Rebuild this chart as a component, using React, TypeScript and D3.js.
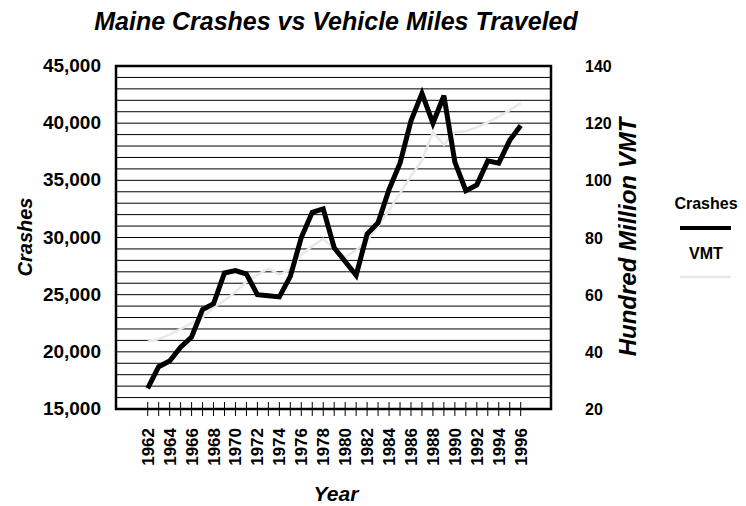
import React from "react";
import * as d3 from "d3";

const years = [1962,1963,1964,1965,1966,1967,1968,1969,1970,1971,1972,1973,1974,1975,1976,1977,1978,1979,1980,1981,1982,1983,1984,1985,1986,1987,1988,1989,1990,1991,1992,1993,1994,1995,1996];
const crashes = [16800,18700,19200,20400,21300,23700,24200,26900,27100,26800,25000,24900,24800,26600,30000,32200,32500,29100,27900,26700,30300,31300,34200,36500,40200,42600,40000,42400,36600,34100,34600,36700,36500,38500,39800];
const vmt = [43.5,44.5,46,48,50,52,55.5,58,61,64.5,67,69.2,67,68.8,74,77,79.5,76,73.2,75.5,79,84,89.5,95.5,101.5,107,116.8,112.4,116.8,117.2,118.5,120.3,122.3,124.5,127];
const leftTicks = [15000,20000,25000,30000,35000,40000,45000];
const rightTicks = [20,40,60,80,100,120,140];
const yearLabels = [1962,1964,1966,1968,1970,1972,1974,1976,1978,1980,1982,1984,1986,1988,1990,1992,1994,1996];

const FONT = "'Liberation Sans', Arial, sans-serif";

export default function App() {
  const left = 116, right = 551, top = 66, bottom = 409;
  const x = d3.scaleLinear().domain([1962, 1996]).range([147.7, 520.7]);
  const yL = d3.scaleLinear().domain([15000, 45000]).range([bottom, top]);
  const yR = d3.scaleLinear().domain([20, 140]).range([bottom, top]);
  const grid = d3.range(16000, 45000, 1000);
  const fmt = d3.format(",");
  const crashLine = d3.line<number>().x((_, i) => x(years[i])).y((d) => yL(d))(crashes) || "";
  const vmtLine = d3.line<number>().x((_, i) => x(years[i])).y((d) => yR(d))(vmt) || "";

  return (
    <svg width={746} height={506} style={{ position: "absolute", left: 0, top: 0, background: "#fff" }} fontFamily={FONT}>
      <rect x={0} y={0} width={746} height={506} fill="#fff" />
      <text x={336} y={30} textAnchor="middle" fontSize={25} fontWeight="bold" fontStyle="italic">Maine Crashes vs Vehicle Miles Traveled</text>
      {grid.map((g) => (
        <line key={g} x1={left} x2={right} y1={yL(g)} y2={yL(g)} stroke="#000" strokeWidth={1} />
      ))}
      <path d={vmtLine} fill="none" stroke="#e8e8e8" strokeWidth={2.5} />
      <path d={crashLine} fill="none" stroke="#000" strokeWidth={5} strokeLinejoin="miter" strokeMiterlimit={3} />
      <rect x={left} y={top} width={right - left} height={bottom - top} fill="none" stroke="#000" strokeWidth={2.5} />
      {years.map((yr) => (
        <line key={yr} x1={x(yr)} x2={x(yr)} y1={bottom - 7} y2={bottom + 7} stroke="#000" strokeWidth={1} />
      ))}
      {yearLabels.map((yr) => (
        <text key={yr} transform={`translate(${x(yr) + 6},428) rotate(-90)`} textAnchor="end" fontSize={17} fontWeight="bold">{yr}</text>
      ))}
      {leftTicks.map((t) => (
        <text key={t} x={101} y={yL(t) + 6} textAnchor="end" fontSize={19} fontWeight="bold">{fmt(t)}</text>
      ))}
      {rightTicks.map((t) => (
        <text key={t} x={585} y={yR(t) + 6} textAnchor="start" fontSize={16} fontWeight="bold">{t}</text>
      ))}
      <text transform="translate(32,237) rotate(-90)" textAnchor="middle" fontSize={20} fontWeight="bold" fontStyle="italic">Crashes</text>
      <text transform="translate(636,237) rotate(-90)" textAnchor="middle" fontSize={24} fontWeight="bold" fontStyle="italic">Hundred Million VMT</text>
      <text x={336} y={501} textAnchor="middle" fontSize={21} fontWeight="bold" fontStyle="italic">Year</text>
      <text x={706} y={209} textAnchor="middle" fontSize={16} fontWeight="bold">Crashes</text>
      <line x1={680} x2={731} y1={228} y2={228} stroke="#000" strokeWidth={4} />
      <text x={706} y={259} textAnchor="middle" fontSize={16} fontWeight="bold">VMT</text>
      <line x1={680} x2={731} y1={277} y2={277} stroke="#e8e8e8" strokeWidth={2.5} />
    </svg>
  );
}
